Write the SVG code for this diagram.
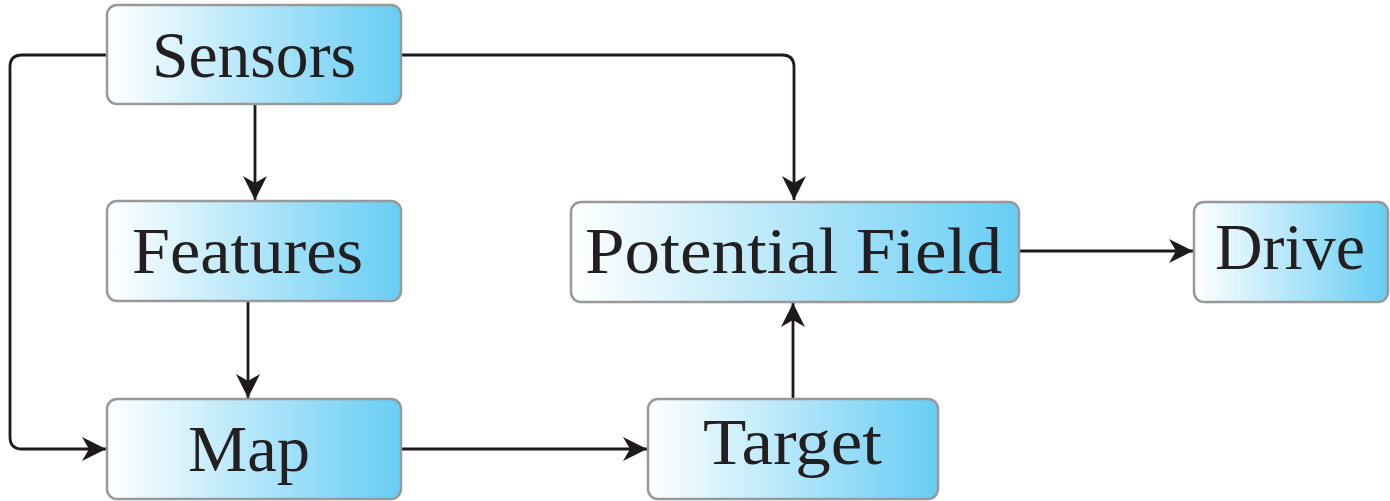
<svg xmlns="http://www.w3.org/2000/svg" width="1390" height="501" viewBox="0 0 1390 501">
<defs>
<linearGradient id="g" x1="0" y1="0" x2="1" y2="0">
<stop offset="0" stop-color="#ffffff"/>
<stop offset="1" stop-color="#67cdf4"/>
</linearGradient>
<marker id="arr" viewBox="-25 -13 27 26" refX="0" refY="0" markerWidth="27" markerHeight="26" markerUnits="userSpaceOnUse" orient="auto">
<path d="M0,0 L-24,-12 L-17,0 L-24,12 Z" fill="#1e1a1b"/>
</marker>
<style>
.box{fill:url(#g);stroke:#999999;stroke-width:2.5}
.lbl{font-family:"Liberation Serif","Times New Roman",serif;font-size:65px;fill:#231f20;text-anchor:middle}
.c{fill:none;stroke:#1e1a1b;stroke-width:2.8;marker-end:url(#arr)}
</style>
</defs>
<g id="connectors">
<path class="c" d="M107,55 H22 Q10,55 10,67 V437 Q10,449 22,449 H106"/>
<path class="c" d="M401,55 H782 Q794,55 794,67 V200"/>
<path class="c" d="M255,104 V200"/>
<path class="c" d="M248,301 V398"/>
<path class="c" d="M401,449 H647"/>
<path class="c" d="M793,399 V303"/>
<path class="c" d="M1019,251 H1193"/>
</g>
<g id="sensors">
<rect class="box" x="107" y="5" width="294" height="99" rx="10"/>
<text class="lbl" x="254" y="77" textLength="204" lengthAdjust="spacingAndGlyphs">Sensors</text>
</g>
<g id="features">
<rect class="box" x="107" y="201" width="294" height="100" rx="10"/>
<text class="lbl" x="247.5" y="273" textLength="231" lengthAdjust="spacingAndGlyphs">Features</text>
</g>
<g id="map">
<rect class="box" x="107" y="399" width="294" height="100" rx="10"/>
<text class="lbl" x="249" y="471" textLength="122" lengthAdjust="spacingAndGlyphs">Map</text>
</g>
<g id="potential-field">
<rect class="box" x="571" y="202" width="448" height="100" rx="10"/>
<text class="lbl" x="793.5" y="273" textLength="417" lengthAdjust="spacingAndGlyphs">Potential Field</text>
</g>
<g id="drive">
<rect class="box" x="1194" y="202" width="194" height="100" rx="10"/>
<text class="lbl" x="1290" y="269" textLength="150" lengthAdjust="spacingAndGlyphs">Drive</text>
</g>
<g id="target">
<rect class="box" x="648" y="399" width="290" height="100" rx="10"/>
<text class="lbl" x="792.5" y="464" textLength="179" lengthAdjust="spacingAndGlyphs">Target</text>
</g>
</svg>
